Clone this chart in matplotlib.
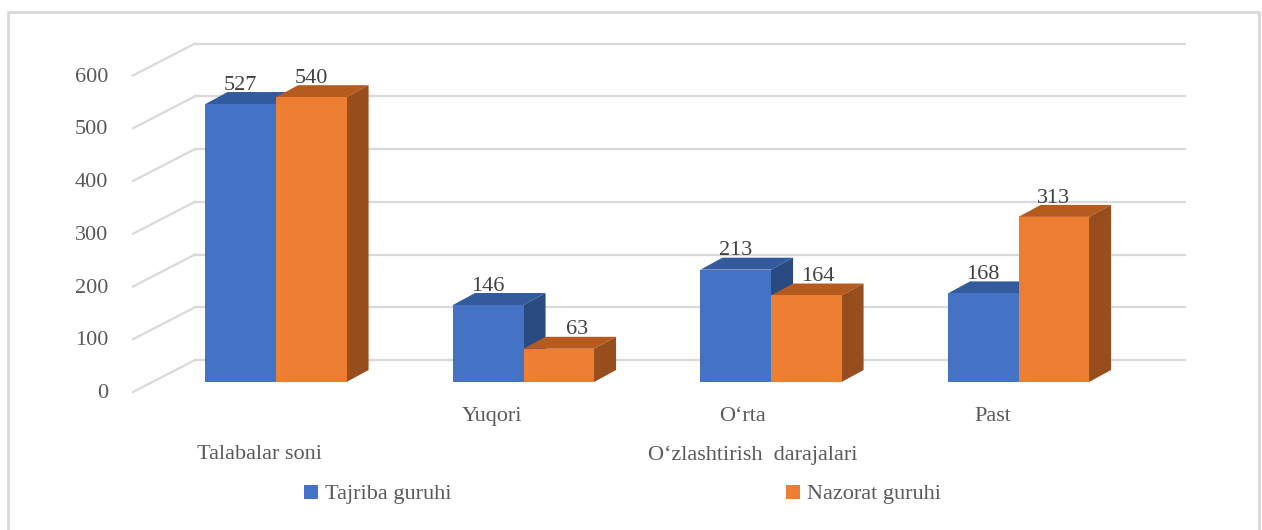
import matplotlib
matplotlib.use("Agg")
import matplotlib.pyplot as plt
from matplotlib.patches import Polygon, Rectangle
from matplotlib.lines import Line2D

plt.rcParams['font.family'] = ['Liberation Serif', 'DejaVu Serif']

# Data
groups = ['', 'Yuqori', 'O‘rta', 'Past']
tajriba = [527, 146, 213, 168]
nazorat = [540, 63, 164, 313]
y_ticks = [0, 100, 200, 300, 400, 500, 600]
series_names = ['Tajriba guruhi', 'Nazorat guruhi']
top_level = ['Talabalar soni', 'O‘zlashtirish  darajalari']

# colours (front, top, side)
blue = ('#4472C4', '#335A9C', '#2A4B82')
orange = ('#ED7D31', '#B65B20', '#984E1C')
grid_c = '#D9D9D9'
txt_c = '#595959'
fs = 16

# 3d look: depth offsets in data units
bar_w = 0.285
bar_dx, bar_dv = 0.089, 22.7
wall_x0, wall_x1 = -0.327, 3.673
wall_dv = 41.7
front_x, front_dv = -0.578, -19.0

fig = plt.figure(figsize=(12.62, 5.30), dpi=100)
ax = fig.add_axes([0, 0, 1, 1])
ax.set_xlim(-1.1152, 3.9838)
ax.set_ylim(-280.57, 724.17)
ax.axis('off')

# outer frame
fig.patches.append(Rectangle((8 / 1262, -0.02), 1251 / 1262, 1.0 - 12 / 530 + 0.02,
                             transform=fig.transFigure, fill=False,
                             edgecolor=grid_c, lw=2))

# back wall gridlines + diagonal side lines
for v in y_ticks:
    ax.plot([wall_x0, wall_x1], [v + wall_dv, v + wall_dv], color=grid_c, lw=1.6, zorder=1)
    ax.plot([front_x, wall_x0], [v + front_dv, v + wall_dv], color=grid_c, lw=1.6, zorder=1)
    ax.text(front_x - 0.1, v + front_dv - 3, str(v), ha='right', va='center',
            fontsize=fs, color=txt_c)


def draw_bar(x0, x1, v, cols, z):
    ax.bar(x0, v, width=x1 - x0, align='edge', color=cols[0], lw=0, zorder=z + 0.2)
    top = [(x0, v), (x1, v), (x1 + bar_dx, v + bar_dv), (x0 + bar_dx, v + bar_dv)]
    side = [(x1, 0), (x1 + bar_dx, bar_dv), (x1 + bar_dx, v + bar_dv), (x1, v)]
    ax.add_patch(Polygon(top, closed=True, facecolor=cols[1], lw=0, zorder=z))
    ax.add_patch(Polygon(side, closed=True, facecolor=cols[2], lw=0, zorder=z))


label_shift = {(1, 1): 0.075, (2, 1): 0.045}
level_shift = [-0.065, -0.127, -0.117, -0.103]

for i in range(len(groups)):
    draw_bar(i - bar_w, i, tajriba[i], blue, 2)
    draw_bar(i, i + bar_w, nazorat[i], orange, 3)
    for k, vals in enumerate([tajriba, nazorat]):
        cx = i - bar_w / 2 + k * bar_w + label_shift.get((i, k), 0)
        ax.text(cx, vals[i] + bar_dv - 5, str(vals[i]), ha='center', va='bottom',
                fontsize=fs, color='#404040', zorder=5)
    if groups[i]:
        ax.text(i + level_shift[i], -66, groups[i], ha='center', va='center',
                fontsize=fs, color=txt_c)

# multi-level axis labels
ax.text(0 + level_shift[0], -138, top_level[0], ha='center', va='center',
        fontsize=fs, color=txt_c)
ax.text(1.927, -138, top_level[1], ha='center', va='center', fontsize=fs, color=txt_c)

# legend, two entries spread apart like the original
for name, cols, xpx in zip(series_names, [blue, orange], [303, 785]):
    h = Line2D([], [], marker='s', linestyle='none', markersize=9.5,
               markerfacecolor=cols[0], markeredgewidth=0)
    fig.legend([h], [name], loc='center left', bbox_to_anchor=(xpx / 1262, 36 / 530),
               frameon=False, fontsize=fs, handlelength=0.7, handletextpad=0.3,
               borderpad=0, borderaxespad=0, labelcolor=txt_c)

fig.savefig('out.png', dpi=100)
